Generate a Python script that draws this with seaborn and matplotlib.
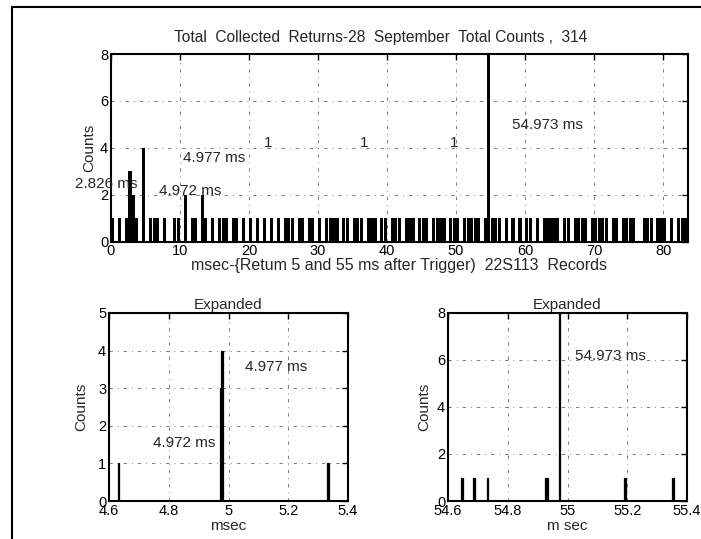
''' Total collected returns - histogram with two expanded views '''

import matplotlib
matplotlib.use("Agg")
import matplotlib.pyplot as plt
import numpy as np
import pandas as pd
import seaborn as sns
from matplotlib.lines import Line2D

# Top panel: counts per 0.5 ms bin, one line per 10 ms
bin_width = 0.5
counts_00_10 = [1, 0, 1, 0, 1, 3, 2, 1, 0, 4, 0, 1, 1, 1, 0, 1, 0, 0, 1, 1]
counts_10_20 = [0, 2, 0, 1, 1, 0, 2, 1, 0, 1, 0, 1, 1, 1, 0, 1, 1, 0, 1, 0]
counts_20_30 = [1, 0, 1, 0, 1, 0, 1, 0, 1, 0, 1, 1, 1, 0, 1, 1, 0, 1, 1, 0]
counts_30_40 = [1, 0, 1, 1, 1, 1, 0, 1, 1, 0, 1, 1, 1, 0, 1, 1, 1, 0, 1, 1]
counts_40_50 = [0, 1, 1, 1, 0, 1, 1, 1, 0, 1, 1, 1, 0, 1, 1, 1, 1, 0, 1, 1]
counts_50_60 = [1, 0, 1, 1, 1, 1, 1, 0, 1, 8, 1, 1, 1, 0, 1, 0, 1, 0, 1, 0]
counts_60_70 = [1, 1, 0, 1, 0, 1, 1, 1, 1, 1, 0, 1, 1, 0, 1, 1, 1, 1, 0, 1]
counts_70_80 = [1, 1, 1, 1, 0, 1, 1, 0, 1, 1, 1, 1, 0, 0, 1, 1, 1, 0, 1, 1]
counts_80_84 = [1, 0, 1, 0, 1, 1, 1, 1]
top_counts = (counts_00_10 + counts_10_20 + counts_20_30 + counts_30_40
              + counts_40_50 + counts_50_60 + counts_60_70 + counts_70_80
              + counts_80_84)

# Expanded view around 5 ms
exp5_ms = [4.63, 4.972, 4.977, 5.334]
exp5_counts = [1, 3, 4, 1]

# Expanded view around 55 ms
exp55_ms = [54.646, 54.690, 54.732, 54.926, 54.931, 54.973, 55.192, 55.352]
exp55_counts = [1, 1, 1, 1, 1, 8, 1, 1]

top_xticks = [0, 10, 20, 30, 40, 50, 60, 70, 80]
exp5_xticks = [4.6, 4.8, 5.0, 5.2, 5.4]
exp5_xlabels = ["4.6", "4.8", "5", "5.2", "5.4"]
exp55_xticks = [54.6, 54.8, 55.0, 55.2, 55.4]
exp55_xlabels = ["54.6", "54.8", "55", "55.2", "55.4"]


def matlab_axes(ax):
    ''' Box, inward ticks and dotted grid like the old MATLAB plots '''
    for side in ax.spines.values():
        side.set_visible(True)
        side.set_linewidth(1.5)
        side.set_color("black")
    ax.tick_params(direction="in", top=True, right=True, length=4, width=1,
                   labelsize=10.5, pad=2, colors="black")
    ax.grid(True, color="black", linewidth=0.6, alpha=0.6,
            linestyle=(0, (4, 6, 1, 6)))
    ax.set_axisbelow(True)


sns.set_style("white")
plt.rcParams["font.family"] = ["Liberation Sans", "DejaVu Sans"]

fig = plt.figure(figsize=(7.01, 5.39), dpi=100)
ax_top = fig.add_axes([0.1583, 0.5516, 0.8232, 0.3482])
ax_l = fig.add_axes([0.1555, 0.0705, 0.341, 0.3488])
ax_r = fig.add_axes([0.6391, 0.0705, 0.341, 0.3488])

# --- top histogram
edges = np.arange(0, bin_width * (len(top_counts) + 1), bin_width)
top_df = pd.DataFrame({"ms": edges[:-1] + bin_width / 2, "counts": top_counts})
sns.histplot(data=top_df, x="ms", weights="counts", bins=list(edges), shrink=0.9,
             color="black", alpha=1, linewidth=0, ax=ax_top)
ax_top.set_xlim(0, 83.6)
ax_top.set_ylim(0, 8)
ax_top.set_xticks(top_xticks)
ax_top.set_yticks([0, 2, 4, 6, 8])
matlab_axes(ax_top)
ax_top.set_ylabel("Counts", fontsize=11, labelpad=3)
ax_top.set_xlabel("msec-{Retum 5 and 55 ms after Trigger)  22S113  Records",
                  fontsize=11.5, labelpad=0)
ax_top.text(0.468, 1.09, "Total  Collected  Returns-28  September  Total Counts ,  314",
            transform=ax_top.transAxes, ha="center", va="center", fontsize=11.2)
ax_top.text(3.9, 2.45, "2.826 ms", ha="right", va="center", fontsize=11)
ax_top.text(10.4, 3.58, "4.977 ms", ha="left", va="center", fontsize=11)
ax_top.text(6.9, 2.17, "4.972 ms", ha="left", va="center", fontsize=11)
ax_top.text(58.1, 4.98, "54.973 ms", ha="left", va="center", fontsize=11)
for xx in [22.8, 36.7, 49.7]:
    ax_top.text(xx, 4.2, "1", ha="center", va="center", fontsize=11)

# --- expanded around 5 ms
exp5_df = pd.DataFrame({"ms": exp5_ms, "counts": exp5_counts})
exp5_edges = list(np.arange(4.6, 5.4 + 1e-9, 0.005))
sns.histplot(data=exp5_df, x="ms", weights="counts", bins=exp5_edges,
             color="black", alpha=1, edgecolor="black", linewidth=0.9, ax=ax_l)
ax_l.set_xlim(4.6, 5.4)
ax_l.set_ylim(0, 5)
ax_l.set_xticks(exp5_xticks, exp5_xlabels)
ax_l.set_yticks([0, 1, 2, 3, 4, 5])
matlab_axes(ax_l)
ax_l.set_title("Expanded", fontsize=11, pad=3)
ax_l.set_xlabel("msec", fontsize=11, labelpad=1)
ax_l.set_ylabel("Counts", fontsize=11, labelpad=7)
ax_l.text(5.055, 3.56, "4.977 ms", ha="left", va="center", fontsize=11)
ax_l.text(4.746, 1.54, "4.972 ms", ha="left", va="center", fontsize=11)

# --- expanded around 55 ms
exp55_df = pd.DataFrame({"ms": exp55_ms, "counts": exp55_counts})
exp55_edges = list(np.arange(54.6, 55.4 + 1e-9, 0.005))
sns.histplot(data=exp55_df, x="ms", weights="counts", bins=exp55_edges,
             color="black", alpha=1, edgecolor="black", linewidth=0.9, ax=ax_r)
ax_r.set_xlim(54.6, 55.4)
ax_r.set_ylim(0, 8)
ax_r.set_xticks(exp55_xticks, exp55_xlabels)
ax_r.set_yticks([0, 2, 4, 6, 8])
matlab_axes(ax_r)
ax_r.set_title("Expanded", fontsize=11, pad=3)
ax_r.set_xlabel("m sec", fontsize=11, labelpad=1)
ax_r.set_ylabel("Counts", fontsize=11, labelpad=4)
ax_r.text(55.025, 6.17, "54.973 ms", ha="left", va="center", fontsize=11)

# page frame (top and left edge of the scanned page)
fig.add_artist(Line2D([12 / 701, 1.0], [1 - 7 / 539, 1 - 7 / 539],
                      transform=fig.transFigure, color="black", linewidth=1.5))
fig.add_artist(Line2D([12 / 701, 12 / 701], [0.0, 1 - 7 / 539],
                      transform=fig.transFigure, color="black", linewidth=1.5))

fig.savefig("out.png", dpi=100)
